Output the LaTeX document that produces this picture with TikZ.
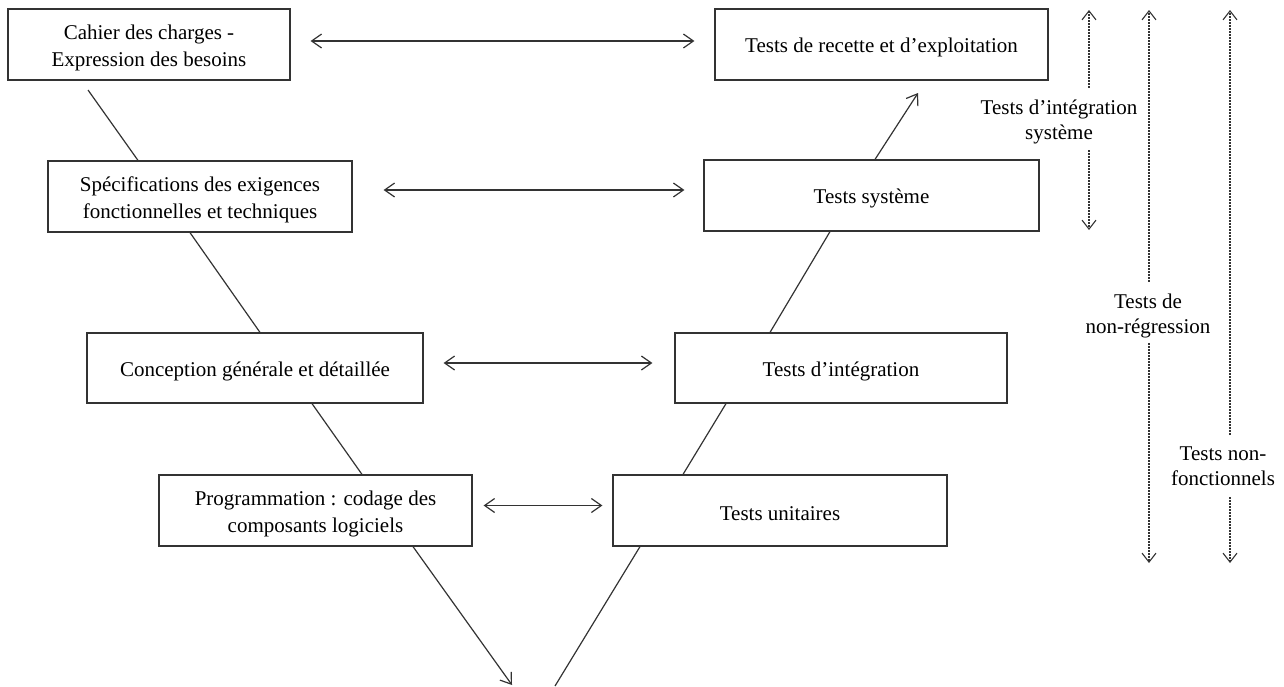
\documentclass[tikz,border=0pt]{standalone}
\usepackage{fontspec}
\setmainfont{Liberation Serif}
\usetikzlibrary{arrows.meta}
\newcommand\hstrut{\rule{0pt}{21pt}}
\begin{document}
\begin{tikzpicture}[x=1pt,y=-1pt,
  lc/.style={draw=black!80, line width=1.2pt},
  box/.style={lc, rectangle, inner sep=0pt, align=center,
    font=\fontsize{21}{27}\selectfont, text=black},
  lab/.style={inner sep=0pt, align=center, font=\fontsize{21}{25}\selectfont, text=black},
  vline/.style={lc},
  dbl/.style={lc, {Straight Barb[length=10pt,width=14pt]}-{Straight Barb[length=10pt,width=14pt]}},
  tip/.style={lc, -{Straight Barb[length=10pt,width=14pt]}},
  dsh/.style={draw=black!80, line width=1.1pt, dash pattern=on 2pt off 1pt,
    -{Straight Barb[length=9pt,width=14pt]}}]
\useasboundingbox (0,0) rectangle (1284,686);

% left boxes
\node[box, minimum width=282pt, minimum height=71pt] (L1) at (149,44.5) {\hstrut Cahier des charges -\\Expression des besoins};
\node[box, minimum width=304pt, minimum height=71pt] (L2) at (200,196.5) {\hstrut Spécifications des exigences\\fonctionnelles et techniques};
\node[box, minimum width=336pt, minimum height=70pt] (L3) at (255,368) {\hstrut Conception générale et détaillée};
\node[box, minimum width=313pt, minimum height=71pt] (L4) at (315.5,510.5) {\hstrut Programmation : codage des\\composants logiciels};

% right boxes
\node[box, minimum width=333pt, minimum height=71pt] (R1) at (881.5,44.5) {\hstrut Tests de recette et d’exploitation};
\node[box, minimum width=335pt, minimum height=71pt] (R2) at (871.5,195.5) {\hstrut Tests système};
\node[box, minimum width=332pt, minimum height=70pt] (R3) at (841,368) {\hstrut Tests d’intégration};
\node[box, minimum width=334pt, minimum height=71pt] (R4) at (780,510.5) {\hstrut Tests unitaires};

% horizontal double arrows
\draw[dbl] ([xshift=20pt,yshift=3.5pt]L1.east) -- ([xshift=-20pt,yshift=3.5pt]R1.west);
\draw[dbl] ([xshift=31pt,yshift=6.5pt]L2.east) -- ([xshift=-19pt,yshift=5.5pt]R2.west);
\draw[dbl] ([xshift=20pt,yshift=5pt]L3.east) -- ([xshift=-22pt,yshift=5pt]R3.west);
\draw[dbl] ([xshift=11pt,yshift=5pt]L4.east) -- ([xshift=-10pt,yshift=5pt]R4.west);

% V lines
\coordinate (vstart) at (88,90);
\coordinate (vbottom) at (512,685);
\coordinate (vrise) at (555,686);
\coordinate (vtop) at (918,93);
\draw[vline] (vstart) -- ([xshift=-62pt]L2.north);
\draw[vline] ([xshift=-10pt]L2.south) -- ([xshift=5pt]L3.north);
\draw[vline] ([xshift=57pt]L3.south) -- ([xshift=46.5pt]L4.north);
\draw[tip] ([xshift=97.5pt]L4.south) -- (vbottom);
\draw[vline] (vrise) -- ([xshift=-140pt]R4.south);
\draw[vline] ([xshift=-97pt]R4.north) -- ([xshift=-115pt]R3.south);
\draw[vline] ([xshift=-71pt]R3.north) -- ([xshift=-41.5pt]R2.south);
\draw[tip] ([xshift=3.5pt]R2.north) -- (vtop);

% dashed test ranges
\node[lab, minimum height=62pt] (T1) at (1059,119) {\hstrut Tests d’intégration\\système};
\node[lab, minimum height=61pt] (T2) at (1148,312.5) {\hstrut Tests de\\non-régression};
\node[lab, minimum height=62pt] (T3) at (1223,466) {Tests non-\\fonctionnels};
\coordinate (t1a) at (1089,10);
\coordinate (t1b) at (1089,230);
\coordinate (t2a) at (1149,10);
\coordinate (t2b) at (1149,563);
\coordinate (t3a) at (1230,10);
\coordinate (t3b) at (1230,563);
\draw[dsh] (T1.north -| t1a) -- (t1a);
\draw[dsh] (T1.south -| t1b) -- (t1b);
\draw[dsh] (T2.north -| t2a) -- (t2a);
\draw[dsh] (T2.south -| t2b) -- (t2b);
\draw[dsh] (T3.north -| t3a) -- (t3a);
\draw[dsh] (T3.south -| t3b) -- (t3b);
\end{tikzpicture}
\end{document}
